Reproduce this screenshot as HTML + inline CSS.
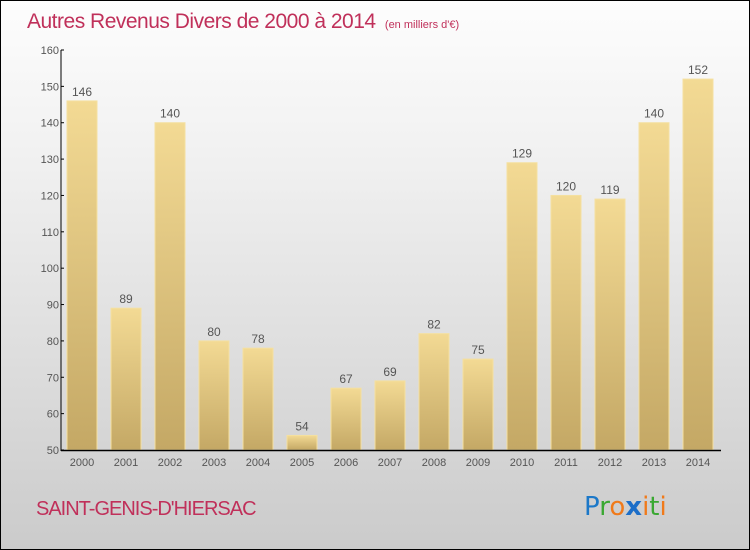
<!DOCTYPE html>
<html><head><meta charset="utf-8"><style>
body{margin:0}
#c{width:750px;height:550px;position:relative;box-sizing:border-box;border:1px solid #000;background:linear-gradient(#fdfdfd,#f0f0f0 30%,#cbcbcb);font-family:"Liberation Sans",sans-serif;overflow:hidden}
</style></head><body>
<div id="c">
<svg id="s" width="750" height="550" style="position:absolute;left:-1px;top:-1px">
<defs><linearGradient id="g" x1="0" y1="0" x2="0" y2="1"><stop offset="0" stop-color="#f3da94"/><stop offset="1" stop-color="#c4a865"/></linearGradient></defs>
<text x="27" y="28" font-size="21" fill="#c0305a" letter-spacing="-0.5">Autres Revenus Divers de 2000 à 2014 <tspan font-size="11" dx="4" letter-spacing="0">(en milliers d'€)</tspan></text>
<text x="36" y="515" font-size="20" fill="#c0305a" letter-spacing="-1">SAINT-GENIS-D'HIERSAC</text>
<text x="584" y="515" font-size="26" font-family="'DejaVu Sans',sans-serif"><tspan fill="#1c78c8">P</tspan><tspan fill="#3aa832">r</tspan><tspan fill="#f07a1a">o</tspan><tspan fill="#1c6ec8" font-weight="bold">x</tspan><tspan fill="#f07a1a">i</tspan><tspan fill="#3aa832">t</tspan><tspan fill="#f07a1a">i</tspan></text>
<g id="plot"></g>
</svg></div>
<script>
const years=["2000","2001","2002","2003","2004","2005","2006","2007","2008","2009","2010","2011","2012","2013","2014"];
const values=[146,89,140,80,78,54,67,69,82,75,129,120,119,140,152];
const ticks=[50,60,70,80,90,100,110,120,130,140,150,160];
const NS="http://www.w3.org/2000/svg",p=document.getElementById('plot');
const y=v=>450-(v-50)*400/110, x=i=>67+i*44;
function mk(t,a,txt){const e=document.createElementNS(NS,t);for(const k in a)e.setAttribute(k,a[k]);if(txt!=null)e.textContent=txt;p.appendChild(e);return e;}
values.forEach((v,i)=>{
 const r=mk('rect',{x:x(i),y:y(v),width:30,height:450-y(v),fill:'url(#g)',stroke:'#f5e0a0','stroke-width':1});
 
 
 const t=mk('text',{x:x(i)+15,y:y(v)-5,'font-size':12,fill:'#555','text-anchor':'middle'},v);
 
 
 const l=mk('text',{x:x(i)+15,y:466,'font-size':11,fill:'#555','text-anchor':'middle'},years[i]);
 
 
});
ticks.forEach(v=>{
 mk('line',{x1:61,x2:64,y1:y(v),y2:y(v),stroke:'#000'});
 const t=mk('text',{x:59,y:y(v)+4,'font-size':11,fill:'#555','text-anchor':'end'},v);
 
 
});
const ya=mk('line',{x1:61,x2:61,y1:50,y2:451,stroke:'#000'});


const xa=mk('line',{x1:61,x2:721,y1:450.5,y2:450.5,stroke:'#000','stroke-width':1.5});


</script>
</body></html>
